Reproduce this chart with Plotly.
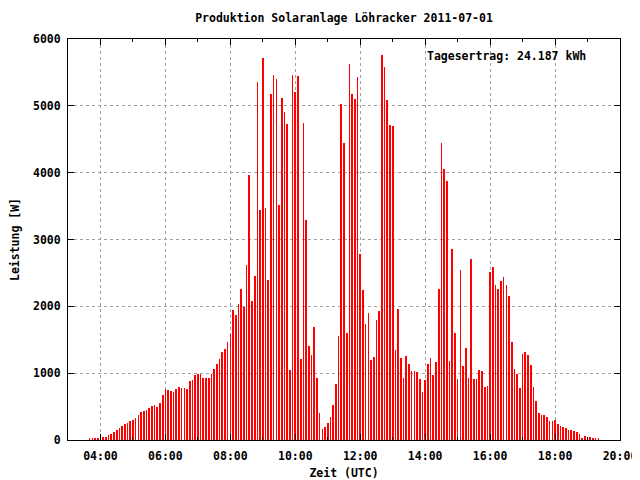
import pandas as pd
import plotly.graph_objects as go

# Power readings [W] every 5 minutes, starting 2011-07-01 03:40 UTC
start_time = "2011-07-01 03:40"
power_w = [
    20, 20, 20, 35,
    65, 50, 50, 80, 95, 125, 155, 185, 215, 245, 260, 290,
    305, 335, 380, 425, 440, 455, 485, 515, 530, 500, 560, 675,
    765, 750, 735, 720, 765, 795, 780, 780, 765, 885, 900, 975,
    990, 990, 930, 930, 930, 990, 1065, 1140, 1215, 1320, 1365, 1470,
    1585, 1940, 1870, 2035, 2254, 1990, 2612, 3970, 2075, 2448, 5358, 3448,
    5716, 3478, 2388, 5179, 5463, 5403, 3522, 5119, 4910, 4731, 1045, 5463,
    5209, 5448, 1209, 4746, 3298, 1403, 1269, 1687, 925, 403, 164, 194,
    254, 343, 522, 836, 1552, 5030, 4448, 1597, 5627, 5179, 5104, 5433,
    2786, 2239, 1731, 1895, 1194, 1239, 1791, 1925, 5761, 5582, 5089, 4716,
    4701, 1343, 1955, 1224, 925, 1254, 1134, 1030, 1030, 1015, 910, 716,
    900, 1134, 1224, 970, 1164, 2254, 4448, 4060, 3881, 1179, 2851, 1597,
    910, 2537, 1104, 1373, 925, 2701, 910, 910, 1045, 1030, 791, 806,
    2507, 2582, 2313, 2254, 2373, 2433, 2313, 2149, 1463, 1060, 985, 776,
    1284, 1313, 1269, 1119, 791, 582, 403, 378, 378, 348, 289, 289,
    303, 244, 214, 199, 184, 154, 154, 139, 124, 95, 20, 65,
    50, 50, 35, 35, 20,
]
times = pd.date_range(start_time, periods=len(power_w), freq="5min")

title_text = "Produktion Solaranlage Löhracker 2011-07-01"
x_title = "Zeit (UTC)"
y_title = "Leistung [W]"
yield_text = "Tagesertrag: 24.187 kWh"
x_range = ["2011-07-01 03:00", "2011-07-01 20:00"]
y_range = [0, 6000]

FONT = "DejaVu Sans Mono"
# page body has an 8px default margin; figure sized to fit the 640x480 window
W, H = 632, 472

fig = go.Figure(
    go.Bar(
        x=times,
        y=power_w,
        width=70000,
        marker=dict(color="#ff0000", line=dict(width=0)),
        hoverinfo="x+y",
    )
)

axis_common = dict(
    automargin=False,
    showline=True,
    linecolor="black",
    linewidth=1,
    mirror="ticks",
    ticks="inside",
    ticklen=6,
    tickcolor="black",
    showgrid=True,
    gridcolor="#a0a0a0",
    griddash="dot",
    gridwidth=1,
    zeroline=False,
    tickfont=dict(family=FONT, size=11.5, color="black", weight="bold"),
)

fig.update_layout(
    width=W,
    height=H,
    margin=dict(l=60, r=20, t=31, b=40),
    plot_bgcolor="white",
    paper_bgcolor="white",
    bargap=0,
    showlegend=False,
    title=dict(
        text=title_text,
        x=336 / W,
        xanchor="center",
        y=1 - 10 / H,
        yanchor="middle",
        font=dict(family=FONT, size=11.5, color="black", weight="bold"),
    ),
    xaxis=dict(
        type="date",
        range=x_range,
        tick0="2011-07-01 04:00",
        dtick=2 * 3600 * 1000,
        tickformat="%H:%M",
        ticklabelstandoff=5,
        minor=dict(dtick=3600 * 1000, ticks="inside", ticklen=3, tickcolor="black", showgrid=False),
        title=dict(text=x_title, standoff=9,
                   font=dict(family=FONT, size=11.5, color="black", weight="bold")),
        **axis_common,
    ),
    yaxis=dict(
        range=y_range,
        dtick=1000,
        ticklabelstandoff=4,
        title=dict(text=y_title, standoff=12,
                   font=dict(family=FONT, size=11.5, color="black", weight="bold")),
        **axis_common,
    ),
    annotations=[
        dict(
            text=yield_text,
            xref="paper", yref="paper",
            x=(425 - 68) / 552, y=1 - (56 - 39) / 401,
            xanchor="left", yanchor="middle",
            showarrow=False,
            font=dict(family=FONT, size=11.5, color="black", weight="bold"),
        )
    ],
)

fig.write_html("out.html")
